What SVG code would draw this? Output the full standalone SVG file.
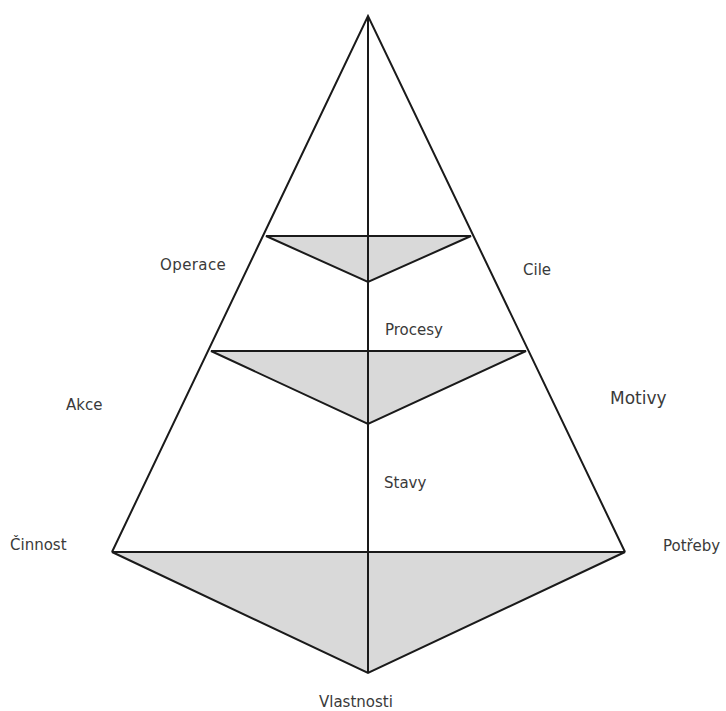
<svg xmlns="http://www.w3.org/2000/svg" width="726" height="711" viewBox="0 0 726 711">
<style>
.ln{stroke:#1a1a1a;stroke-width:2;fill:none;stroke-linejoin:miter}
.tri{fill:#d9d9d9;stroke:#1a1a1a;stroke-width:2;stroke-linejoin:miter}
.t{font-family:"DejaVu Sans","Liberation Sans",sans-serif;font-size:15px;fill:#3a3a3a}
</style>
<rect width="726" height="711" fill="#ffffff"/>
<g id="shapes">
<g id="tri-top"><polygon class="tri" points="266,236 471,236 368,282"/></g>
<g id="tri-mid"><polygon class="tri" points="211,351 526,351 368,424"/></g>
<g id="tri-bottom"><polygon class="tri" points="112,552 625,552 368,673"/></g>
</g>
<g id="connectors">
<polyline class="ln" points="112,552 368,16 625,552"/>
<line class="ln" x1="368" y1="16" x2="368" y2="673"/>
</g>
<g id="labels">
<g id="operace"><text class="t" x="160" y="270" letter-spacing="0.4">Operace</text></g>
<g id="cile"><text class="t" x="523" y="275">Cile</text></g>
<g id="procesy"><text class="t" x="385" y="335">Procesy</text></g>
<g id="akce"><text class="t" x="66" y="410">Akce</text></g>
<g id="motivy"><text class="t" x="610" y="404" style="font-size:17px">Motivy</text></g>
<g id="stavy"><text class="t" x="384" y="488">Stavy</text></g>
<g id="cinnost"><text class="t" x="10" y="550">Činnost</text></g>
<g id="potreby"><text class="t" x="663" y="551">Potřeby</text></g>
<g id="vlastnosti"><text class="t" x="319" y="707">Vlastnosti</text></g>
</g>
</svg>
